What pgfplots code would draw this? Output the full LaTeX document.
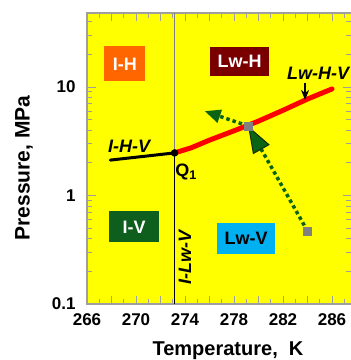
\documentclass[border=0pt]{standalone}
\usepackage{pgfplots}
\pgfplotsset{compat=1.18}
\usetikzlibrary{arrows.meta}
\usepackage{fontspec}
\setmainfont{Liberation Sans}
\definecolor{bgy}{RGB}{255,255,0}
\definecolor{orbox}{RGB}{255,102,0}
\definecolor{rdbox}{RGB}{122,0,0}
\definecolor{gnbox}{RGB}{14,94,30}
\definecolor{cybox}{RGB}{0,176,240}
\definecolor{agreen}{RGB}{10,100,20}
\definecolor{adark}{RGB}{20,45,10}
\definecolor{hred}{RGB}{255,0,0}
\newcommand{\boxfont}{\fontsize{18}{20}\selectfont\bfseries}
\newcommand{\itfont}{\fontsize{18}{20}\selectfont\bfseries\itshape}
\begin{document}
\begin{tikzpicture}
\useasboundingbox (0,0) rectangle (351pt,360pt);
\clip (0,0) rectangle (351pt,360pt);
\begin{axis}[
  at={(87pt,56pt)}, anchor=south west,
  scale only axis, width=264.5pt, height=291pt,
  xmin=266, xmax=287.59,
  ymode=log, ymin=0.1, ymax=48.1,
  axis background/.style={fill=bgy},
  axis line style={draw=gray!75, line width=1.3pt},
  xtick={266,268,...,286},
  xticklabels={266,,270,,274,,278,,282,,286},
  minor xtick={267,269,...,287},
  ytick={0.1,1,10}, yticklabels={0.1,1,10},
  minor ytick={0.2,0.3,0.4,0.5,0.6,0.7,0.8,0.9,2,3,4,5,6,7,8,9,20,30,40},
  tick align=inside, major tick length=8.5pt, minor tick length=5pt,
  every tick/.style={draw=gray!75, line width=1pt},
  every minor tick/.style={draw=gray!75, line width=1pt},
  ticklabel style={font=\fontsize{17}{20}\selectfont\bfseries},
  /pgf/number format/assume math mode=true,
  xticklabel style={yshift=-6pt},
  yticklabel style={xshift=-8pt},
]
% region boxes
\node[fill=orbox, text=white, minimum width=41pt, minimum height=35pt, inner sep=0pt, font=\boxfont] at (axis cs:269.1,16.3) {I-H};
\node[fill=rdbox, text=white, minimum width=59pt, minimum height=29pt, inner sep=0pt, font=\boxfont] at (axis cs:278.45,17.2) {Lw-H};
\node[fill=gnbox, text=white, minimum width=50pt, minimum height=31pt, inner sep=0pt, font=\boxfont] at (axis cs:269.84,0.513) {I-V};
\node[fill=cybox, text=black, minimum width=58pt, minimum height=31pt, inner sep=0pt, font=\boxfont] at (axis cs:278.98,0.405) {Lw-V};
% vertical line I-Lw-V
\addplot[gray, line width=0.8pt] coordinates {(273.15,2.47) (273.15,48.1)};
\addplot[black, line width=1.5pt] coordinates {(273.15,0.1) (273.15,2.47)};
% I-H-V
\addplot[black, line width=3pt, line cap=round] coordinates {(267.9,2.12) (273.15,2.47)};
% Lw-H-V
\addplot[hred, line width=5pt, line cap=round] coordinates {(273.15,2.47) (274.5,2.75) (276,3.24) (278,3.95) (280,4.85) (282,6.1) (284,7.75) (286,9.6)};
% Q1 point
\addplot[only marks, mark=*, mark size=3.5pt, black] coordinates {(273.15,2.47)};
% arrows
\addplot[draw=agreen, line width=3.5pt, dash pattern=on 3.5pt off 3pt,
  -{Triangle[length=27pt,width=19pt,line width=1pt,fill=agreen,color=adark]}] coordinates {(284,0.47) (279.15,4.37)};
\addplot[draw=agreen, line width=3.5pt, dash pattern=on 3.5pt off 3pt,
  -{Triangle[length=16pt,width=13pt]}] coordinates {(279.15,4.37) (275.6,6.0)};
\addplot[only marks, mark=square*, mark size=4pt, draw=gray, fill=gray] coordinates {(279.15,4.37) (284,0.47)};
% pointer
\addplot[black, line width=1.2pt, -{Stealth[length=10pt,width=8pt,inset=3pt]}] coordinates {(283.8,10.9) (283.8,7.6)};
% labels
\node[font=\itfont] at (axis cs:284.86,13.5) {Lw-H-V};
\node[font=\itfont] at (axis cs:269.43,2.86) {I-H-V};
\node[font=\fontsize{18}{20}\selectfont\bfseries] at (axis cs:274.1,1.65) {Q\textsubscript{1}};
\node[font=\itfont, rotate=90] at (axis cs:274.0,0.271) {I-Lw-V};
\end{axis}
\node[rotate=90, font=\fontsize{21}{24}\selectfont\bfseries] at (24pt,192pt) {Pressure, MPa};
\node[anchor=base, font=\fontsize{20}{24}\selectfont\bfseries] at (228pt,5pt) {Temperature,\ \ K};
\end{tikzpicture}
\end{document}
